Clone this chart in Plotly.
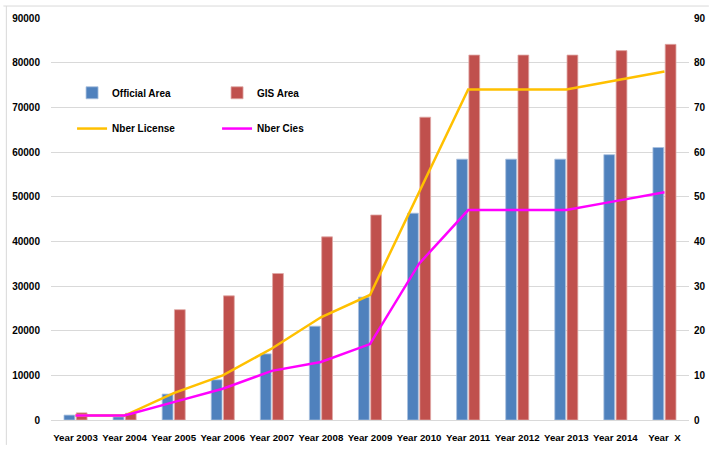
import plotly.graph_objects as go

categories = ["Year 2003", "Year 2004", "Year 2005", "Year 2006", "Year 2007", "Year 2008",
              "Year 2009", "Year 2010", "Year 2011", "Year 2012", "Year 2013", "Year 2014",
              "Year\u00a0\u00a0X"]
official_area = [1100, 700, 5800, 9000, 14800, 21000, 27500, 46300, 58400, 58400, 58400, 59400, 61000]
gis_area = [1600, 1500, 24700, 27800, 32800, 41000, 45900, 67800, 81700, 81700, 81700, 82700, 84100]
nber_license = [1, 1, 6, 10, 16, 23, 28, 51, 74, 74, 74, 76, 78]
nber_cies = [1, 1, 4, 7, 11, 13, 17, 35, 47, 47, 47, 49, 51]

FONT = "Liberation Sans"

fig = go.Figure()
fig.add_trace(go.Bar(x=categories, y=official_area, name="Official Area",
                     marker=dict(color="#4F81BD", line=dict(color="#A9C0DE", width=0.8)),
                     legend="legend"))
fig.add_trace(go.Bar(x=categories, y=gis_area, name="GIS Area",
                     marker=dict(color="#C0504D", line=dict(color="#E0A8A6", width=0.8)),
                     legend="legend"))
fig.add_trace(go.Scatter(x=categories, y=nber_license, name="Nber License", mode="lines",
                         line=dict(color="#FFC000", width=2.5), yaxis="y2", legend="legend2"))
fig.add_trace(go.Scatter(x=categories, y=nber_cies, name="Nber Cies", mode="lines",
                         line=dict(color="#FF00FF", width=2.5), yaxis="y2", legend="legend2"))

legend_common = dict(orientation="h", xanchor="left", yanchor="middle",
                     bgcolor="rgba(0,0,0,0)", entrywidth=100, entrywidthmode="pixels",
                     font=dict(family=FONT, size=10, color="#000000", weight="bold"),
                     itemclick=False, itemdoubleclick=False, traceorder="normal")

fig.update_layout(
    width=718, height=471,
    margin=dict(l=48, r=27, t=17, b=51),
    paper_bgcolor="white", plot_bgcolor="white",
    barmode="group", bargap=0.5, bargroupgap=0.12,
    font=dict(family=FONT, size=10, color="#000000"),
    xaxis=dict(showgrid=False, showline=True, linecolor="#D9D9D9", linewidth=1,
               ticks="", tickfont=dict(family=FONT, size=9.7, weight="bold", color="#000000"),
               ticklabelstandoff=8),
    yaxis=dict(range=[0, 90000], dtick=10000, showgrid=True, gridcolor="#D9D9D9", gridwidth=1,
               zeroline=False, showline=False, ticks="",
               tickfont=dict(family=FONT, size=10, weight="bold", color="#000000"),
               ticklabelstandoff=10, tickformat="d"),
    yaxis2=dict(range=[0, 90], dtick=10, overlaying="y", side="right", showgrid=False,
                zeroline=False, showline=False, ticks="",
                tickfont=dict(family=FONT, size=10, weight="bold", color="#000000"),
                ticklabelstandoff=4),
    legend=dict(x=0.033, y=0.814, **legend_common),
    legend2=dict(x=0.033, y=0.725, **legend_common),
    shapes=[
        dict(type="line", xref="paper", yref="paper", x0=-48/643, x1=1+20/643,
             y0=1+12/403, y1=1+12/403, line=dict(color="#D9D9D9", width=1)),
        dict(type="line", xref="paper", yref="paper", x0=-45/643, x1=-45/643,
             y0=1+12/403, y1=-25/403, line=dict(color="#D9D9D9", width=1)),
    ],
)

fig.write_html("out.html")
